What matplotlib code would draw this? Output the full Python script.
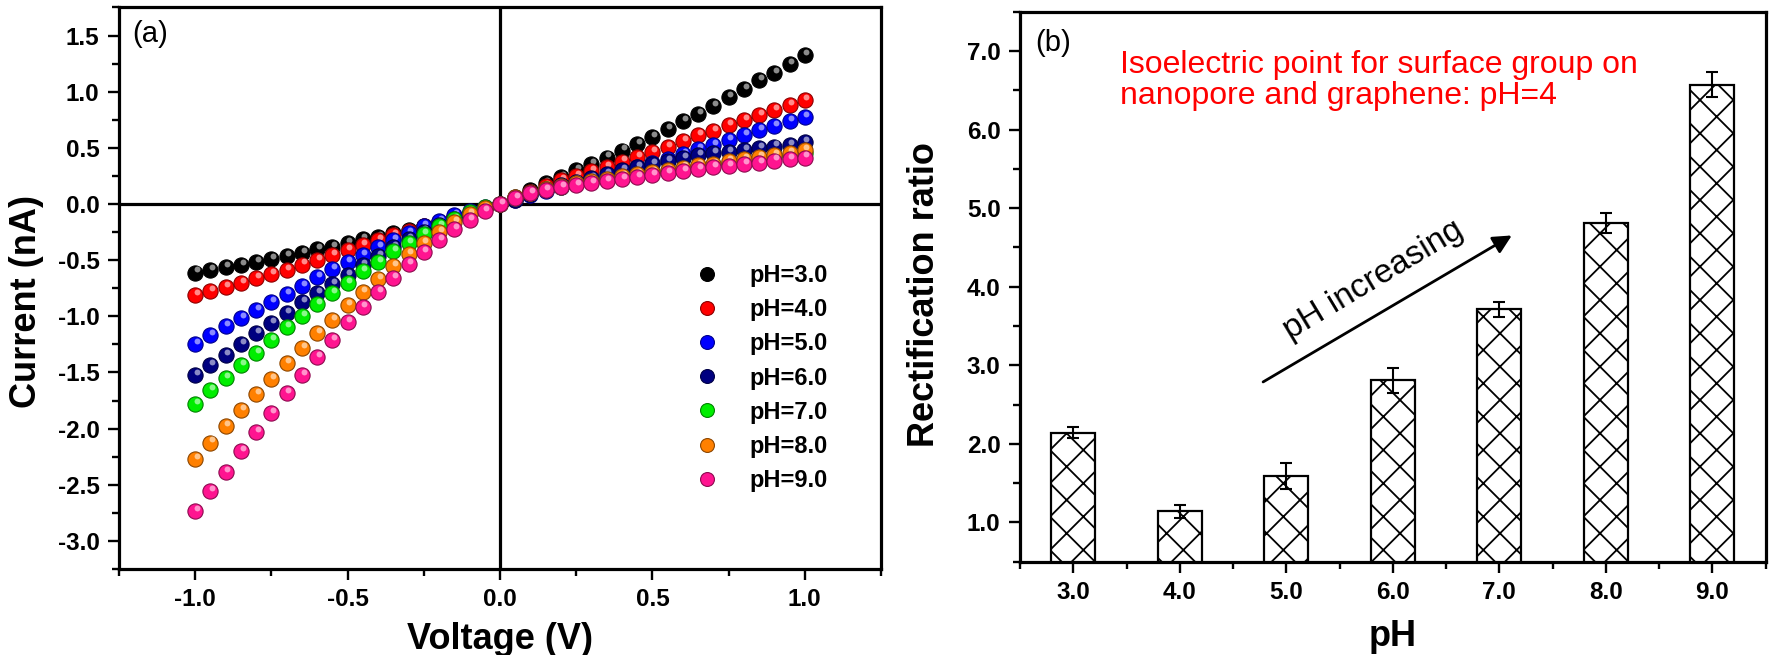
import numpy as np
import matplotlib
matplotlib.use("Agg")
import matplotlib.pyplot as plt
from matplotlib.lines import Line2D
from matplotlib.transforms import offset_copy
from matplotlib.ticker import MultipleLocator
from matplotlib.colors import to_rgb

plt.rcParams['font.family'] = ['Liberation Sans', 'DejaVu Sans']
plt.rcParams['hatch.linewidth'] = 1.3

# --- panel (a): I-V curves, V from -1.0 to 1.0 in 0.05 V steps ---
voltage = np.round(np.arange(-20, 21) * 0.05, 2)

i_ph3 = [-0.61, -0.59, -0.56, -0.545, -0.52, -0.49, -0.465, -0.435, -0.405, -0.38,
         -0.35, -0.315, -0.29, -0.26, -0.23, -0.195, -0.16, -0.12, -0.08, -0.04, 0.0,
         0.065, 0.125, 0.185, 0.24, 0.30, 0.355, 0.414, 0.476, 0.536, 0.60,
         0.67, 0.74, 0.80, 0.876, 0.95, 1.025, 1.10, 1.17, 1.248, 1.33]
i_ph4 = [-0.813, -0.777, -0.739, -0.703, -0.658, -0.62, -0.584, -0.539, -0.50, -0.456,
         -0.411, -0.366, -0.322, -0.277, -0.24, -0.20, -0.16, -0.12, -0.08, -0.04, 0.0,
         0.055, 0.11, 0.16, 0.21, 0.25, 0.29, 0.333, 0.378, 0.42, 0.467,
         0.51, 0.557, 0.61, 0.65, 0.70, 0.745, 0.79, 0.84, 0.885, 0.93]
i_ph5 = [-1.247, -1.165, -1.09, -1.015, -0.945, -0.875, -0.80, -0.73, -0.65, -0.58,
         -0.516, -0.456, -0.38, -0.32, -0.26, -0.20, -0.15, -0.10, -0.06, -0.03, 0.0,
         0.04, 0.08, 0.12, 0.155, 0.19, 0.22, 0.25, 0.29, 0.328, 0.363,
         0.402, 0.447, 0.489, 0.527, 0.572, 0.617, 0.655, 0.697, 0.735, 0.775]
i_ph6 = [-1.527, -1.437, -1.344, -1.247, -1.153, -1.064, -0.97, -0.873, -0.79, -0.71,
         -0.63, -0.54, -0.46, -0.38, -0.31, -0.245, -0.185, -0.13, -0.08, -0.04, 0.0,
         0.04, 0.085, 0.125, 0.165, 0.20, 0.235, 0.27, 0.30, 0.33, 0.36,
         0.385, 0.41, 0.432, 0.453, 0.467, 0.483, 0.497, 0.512, 0.527, 0.548]
i_ph7 = [-1.78, -1.657, -1.55, -1.433, -1.325, -1.21, -1.097, -0.995, -0.89, -0.79,
         -0.70, -0.60, -0.515, -0.42, -0.345, -0.265, -0.195, -0.13, -0.075, -0.03, 0.0,
         0.057, 0.098, 0.13, 0.155, 0.178, 0.198, 0.218, 0.237, 0.256, 0.275,
         0.293, 0.312, 0.33, 0.347, 0.365, 0.383, 0.40, 0.418, 0.437, 0.455]
i_ph8 = [-2.273, -2.124, -1.978, -1.837, -1.695, -1.557, -1.418, -1.284, -1.153, -1.03,
         -0.903, -0.785, -0.665, -0.555, -0.447, -0.345, -0.247, -0.16, -0.088, -0.035, 0.0,
         0.058, 0.10, 0.135, 0.16, 0.185, 0.205, 0.225, 0.245, 0.265, 0.285,
         0.305, 0.325, 0.345, 0.36, 0.38, 0.40, 0.415, 0.435, 0.455, 0.48]
i_ph9 = [-2.73, -2.557, -2.385, -2.20, -2.03, -1.863, -1.687, -1.527, -1.362, -1.213,
         -1.055, -0.918, -0.786, -0.66, -0.538, -0.428, -0.32, -0.226, -0.143, -0.063, 0.0,
         0.056, 0.095, 0.125, 0.149, 0.17, 0.185, 0.205, 0.223, 0.244, 0.26,
         0.28, 0.295, 0.313, 0.328, 0.342, 0.357, 0.369, 0.387, 0.40, 0.414]

series_labels = ["pH=3.0", "pH=4.0", "pH=5.0", "pH=6.0", "pH=7.0", "pH=8.0", "pH=9.0"]
series_colors = ["#000000", "#ff0000", "#0000ff", "#000080", "#00ee00", "#ff8000", "#ff1490"]
currents = [i_ph3, i_ph4, i_ph5, i_ph6, i_ph7, i_ph8, i_ph9]

# --- panel (b): rectification ratio ---
ph_values = [3.0, 4.0, 5.0, 6.0, 7.0, 8.0, 9.0]
ratio = [2.14, 1.14, 1.59, 2.81, 3.71, 4.81, 6.57]
ratio_err = [0.07, 0.08, 0.17, 0.16, 0.10, 0.13, 0.16]

fig = plt.figure(figsize=(17.73, 6.55), dpi=100)
ax1 = fig.add_axes([0.0671, 0.1313, 0.4298, 0.8573])
ax2 = fig.add_axes([0.5753, 0.1424, 0.4205, 0.8398])


def style_axes(ax):
    for sp in ax.spines.values():
        sp.set_linewidth(2.3)
    ax.tick_params(which='both', direction='out', width=1.7, top=False, right=False,
                   labelsize=17.5)
    ax.tick_params(which='major', length=8, pad=6)
    ax.tick_params(which='minor', length=5)
    for lab in ax.get_xticklabels() + ax.get_yticklabels():
        lab.set_fontweight('bold')


def darker(c, f=0.55):
    r, g, b = to_rgb(c)
    return (r * f, g * f, b * f)


# balls with a small highlight to mimic the shaded spheres
hi_tr = offset_copy(ax1.transData, fig=fig, x=1.2, y=2.2, units='points')
for k, (cur, col) in enumerate(zip(currents, series_colors)):
    ax1.scatter(voltage, cur, s=120, color=col, edgecolors=darker(col), linewidths=0.8,
                zorder=3 + k)
    ax1.scatter(voltage, cur, s=18, color='white', alpha=0.55, linewidths=0,
                transform=hi_tr, zorder=3.5 + k)

ax1.axhline(0, color='black', lw=2.3, zorder=2)
ax1.axvline(0, color='black', lw=2.3, zorder=2)
ax1.set_xlim(-1.25, 1.25)
ax1.set_ylim(-3.25, 1.75)
ax1.xaxis.set_minor_locator(MultipleLocator(0.25))
ax1.yaxis.set_minor_locator(MultipleLocator(0.25))
ax1.set_xticks([-1.0, -0.5, 0.0, 0.5, 1.0])
ax1.set_xticklabels(["-1.0", "-0.5", "0.0", "0.5", "1.0"])
yt = [1.5, 1.0, 0.5, 0.0, -0.5, -1.0, -1.5, -2.0, -2.5, -3.0]
ax1.set_yticks(yt)
ax1.set_yticklabels(["%.1f" % v for v in yt])
style_axes(ax1)
ax1.set_xlabel("Voltage (V)", fontsize=26, fontweight='bold')
ax1.set_ylabel("Current (nA)", fontsize=26, fontweight='bold')
ax1.xaxis.set_label_coords(0.5, -0.094)
ax1.yaxis.set_label_coords(-0.098, 0.476)
ax1.text(0.017, 0.978, "(a)", transform=ax1.transAxes, fontsize=21, va='top', ha='left')

handles = [Line2D([], [], ls='none', marker='o', markersize=10, color=c,
                  markeredgecolor=darker(c), markeredgewidth=0.8) for c in series_colors]
leg = ax1.legend(handles, series_labels, loc='center left', bbox_to_anchor=(0.725, 0.34),
                 frameon=False, prop={'size': 17, 'weight': 'bold'}, labelspacing=0.47,
                 handletextpad=1.2, handlelength=1.2)

# --- panel (b) ---
ax2.bar(ph_values, ratio, width=0.41, color='white', edgecolor='black', linewidth=1.6,
        hatch='x', zorder=2)
ax2.errorbar(ph_values, ratio, yerr=ratio_err, fmt='none', ecolor='black', elinewidth=1.5,
             capsize=4.5, capthick=1.5, zorder=3)
ax2.set_xlim(2.5, 9.5)
ax2.set_ylim(0.5, 7.5)
ax2.set_xticks(ph_values)
ax2.set_xticklabels(["%.1f" % v for v in ph_values])
ax2.xaxis.set_minor_locator(MultipleLocator(0.5))
yt2 = [1.0, 2.0, 3.0, 4.0, 5.0, 6.0, 7.0]
ax2.set_yticks(yt2)
ax2.set_yticklabels(["%.1f" % v for v in yt2])
ax2.yaxis.set_minor_locator(MultipleLocator(0.5))
style_axes(ax2)
ax2.set_xlabel("pH", fontsize=26, fontweight='bold')
ax2.set_ylabel("Rectification ratio", fontsize=26, fontweight='bold')
ax2.xaxis.set_label_coords(0.5, -0.105)
ax2.yaxis.set_label_coords(-0.105, 0.485)
ax2.text(0.02, 0.968, "(b)", transform=ax2.transAxes, fontsize=21, va='top', ha='left')
ax2.text(0.134, 0.93, "Isoelectric point for surface group on\nnanopore and graphene: pH=4",
         transform=ax2.transAxes, fontsize=23, color='#ff0000', va='top', ha='left',
         linespacing=1.05)
ax2.annotate("", xy=(7.14, 4.67), xytext=(4.76, 2.77),
             arrowprops=dict(arrowstyle='-|>', color='black', lw=2.0, mutation_scale=28))
ax2.text(5.82, 4.08, "pH increasing", fontsize=24, rotation=31, ha='center', va='center',
         rotation_mode='anchor')

fig.savefig("out.png", dpi=100)
